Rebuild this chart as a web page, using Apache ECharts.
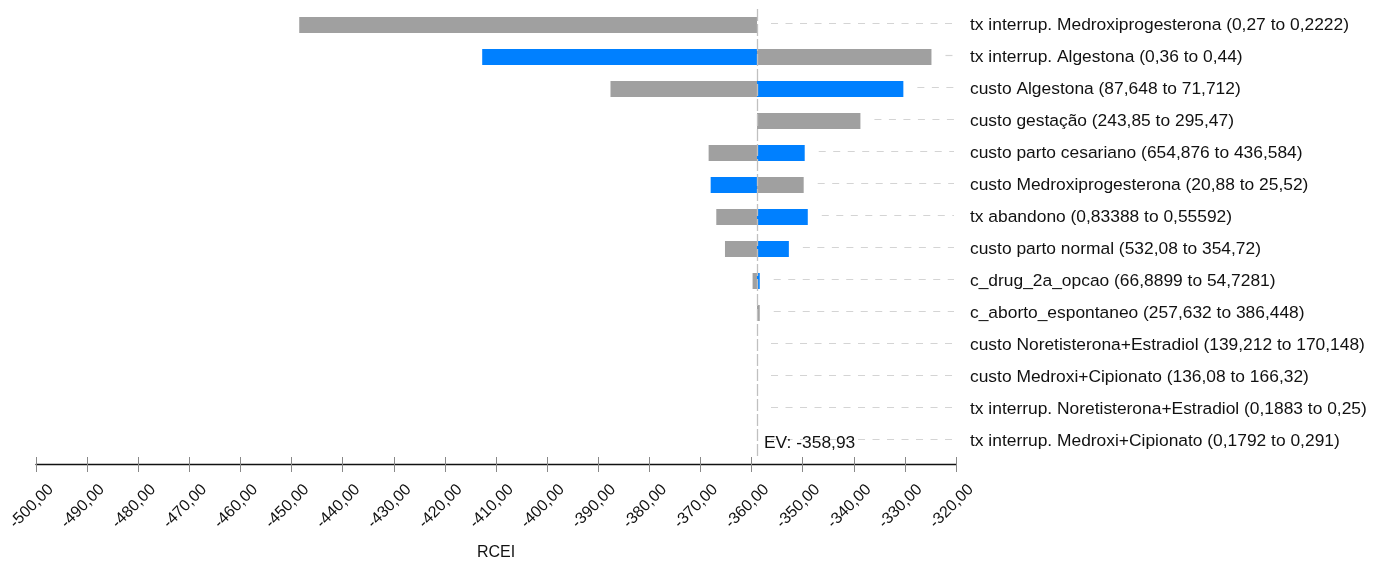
<!DOCTYPE html>
<html>
<head>
<meta charset="utf-8">
<script src="https://cdn.jsdelivr.net/npm/echarts@6/dist/echarts.min.js"></script>
<style>
  html, body { margin: 0; padding: 0; background: #ffffff; }
  #chart { width: 1384px; height: 563px; }
</style>
</head>
<body>
<div id="chart"></div>
<script>
// ---- data ----
const EV = -358.93;
const parameters = [
  'tx interrup. Medroxiprogesterona (0,27 to 0,2222)',
  'tx interrup. Algestona (0,36 to 0,44)',
  'custo Algestona (87,648 to 71,712)',
  'custo gestação (243,85 to 295,47)',
  'custo parto cesariano (654,876 to 436,584)',
  'custo Medroxiprogesterona (20,88 to 25,52)',
  'tx abandono (0,83388 to 0,55592)',
  'custo parto normal (532,08 to 354,72)',
  'c_drug_2a_opcao (66,8899 to 54,7281)',
  'c_aborto_espontaneo (257,632 to 386,448)',
  'custo Noretisterona+Estradiol (139,212 to 170,148)',
  'custo Medroxi+Cipionato (136,08 to 166,32)',
  'tx interrup. Noretisterona+Estradiol (0,1883 to 0,25)',
  'tx interrup. Medroxi+Cipionato (0,1792 to 0,291)'
];
const grayValues = [-448.5, -324.8, -387.6, -338.7, -368.4, -349.8, -366.9, -365.2, -359.8, -358.4, -358.93, -358.93, -358.93, -358.93];
const blueValues = [-358.93, -412.7, -330.3, -358.93, -349.6, -368.0, -349.0, -352.7, -358.4, -358.93, -358.93, -358.93, -358.93, -358.93];
const xMin = -500, xMax = -320, xStep = 10;
const xAxisName = 'RCEI';
const evLabel = 'EV: -358,93';

// ---- chart ----
const FONT = 'Liberation Sans, Arial, sans-serif';
const chart = echarts.init(document.getElementById('chart'), null, { renderer: 'canvas' });

function barRenderer(color) {
  return function (params, api) {
    const cat = api.value(0);
    const v = api.value(1);
    const p0 = api.coord([EV, cat]);
    const p1 = api.coord([v, cat]);
    const h = api.size([0, 1])[1] * 0.5;
    const w = Math.abs(p1[0] - p0[0]);
    if (w < 0.01) return null;
    return {
      type: 'rect',
      shape: { x: Math.min(p0[0], p1[0]), y: p0[1] - h / 2, width: w, height: h },
      style: { fill: color }
    };
  };
}

const leaderData = parameters.map((_, i) => [i, grayValues[i], blueValues[i]]);

chart.setOption({
  animation: false,
  backgroundColor: '#ffffff',
  grid: { left: 36, right: 428, top: 9, bottom: 106, containLabel: false, outerBoundsMode: 'none' },
  xAxis: [
    {
      type: 'value', min: xMin, max: xMax, interval: xStep, position: 'bottom', offset: 7,
      name: xAxisName, nameLocation: 'middle', nameGap: 81,
      nameTextStyle: { fontFamily: FONT, fontSize: 16, color: '#111' },
      axisLine: { show: true, lineStyle: { color: '#111', width: 1.3 } },
      axisTick: { show: true, length: 8, lineStyle: { color: '#888' } },
      axisLabel: {
        show: true, rotate: 45, margin: 38, padding: [0, -21, 0, 0], interval: 0,
        fontFamily: FONT, fontSize: 16, color: '#111',
        formatter: v => v.toFixed(2).replace('.', ',')
      },
      splitLine: { show: false }
    },
    {
      type: 'value', min: xMin, max: xMax, interval: xStep, position: 'bottom', offset: 7,
      axisLine: { show: false },
      axisTick: { show: true, inside: true, length: 7, lineStyle: { color: '#888' } },
      axisLabel: { show: false },
      splitLine: { show: false }
    }
  ],
  yAxis: {
    type: 'category', data: parameters, inverse: true, position: 'right',
    axisLine: { show: false }, axisTick: { show: false },
    axisLabel: { margin: 14, fontFamily: FONT, fontSize: 17.4, color: '#111' },
    splitLine: { show: false }
  },
  series: [
    {
      type: 'custom', name: 'leaders', z: 1,
      data: leaderData,
      encode: { x: [1, 2], y: 0 },
      renderItem: function (params, api) {
        const cat = api.value(0);
        const pe = api.coord([EV, cat]);
        const pg = api.coord([api.value(1), cat]);
        const pb = api.coord([api.value(2), cat]);
        const pr = api.coord([xMax, cat]);
        const start = Math.max(pe[0], pg[0], pb[0]) + 14;
        const y = Math.round(pe[1]) - 1.5;
        return {
          type: 'line',
          shape: { x1: start, y1: y, x2: pr[0] - 2, y2: y },
          style: { stroke: '#d4d4d4', lineWidth: 1.2, lineDash: [7, 7.5] }
        };
      }
    },
    {
      type: 'custom', name: 'gray', z: 2,
      data: parameters.map((_, i) => [i, grayValues[i]]),
      encode: { x: 1, y: 0 },
      renderItem: barRenderer('#a0a0a0')
    },
    {
      type: 'custom', name: 'blue', z: 3,
      data: parameters.map((_, i) => [i, blueValues[i]]),
      encode: { x: 1, y: 0 },
      renderItem: barRenderer('#0080ff')
    },
    {
      type: 'custom', name: 'ev', z: 4,
      data: [[parameters.length - 1, EV]],
      encode: { x: 1, y: 0 },
      renderItem: function (params, api) {
        const cs = params.coordSys;
        const p = api.coord([api.value(1), api.value(0)]);
        const x = Math.round(p[0]) + 0.5;
        return {
          type: 'group',
          children: [
            {
              type: 'line',
              shape: { x1: x, y1: cs.y, x2: x, y2: cs.y + cs.height },
              style: { stroke: '#c0c0c0', lineWidth: 1.3, lineDash: [12, 3] }
            },
            {
              type: 'text',
              style: {
                x: p[0] + 7, y: p[1] + 2, text: evLabel,
                fill: '#111', font: '17.4px ' + FONT,
                textAlign: 'left', textVerticalAlign: 'middle'
              }
            }
          ]
        };
      }
    }
  ]
});
</script>
</body>
</html>
